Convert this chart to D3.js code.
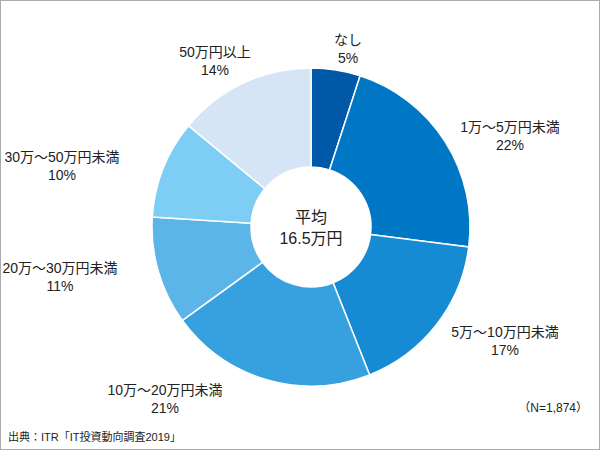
<!DOCTYPE html>
<html><head><meta charset="utf-8">
<script src="https://cdn.jsdelivr.net/npm/d3@7"></script>
<style>body{margin:0;background:#fff}svg{font-family:"Liberation Sans","Noto Sans CJK JP",sans-serif}</style>
</head><body><svg id="c" width="600" height="450"></svg>
<script>
const categories=["なし","1万～5万円未満","5万～10万円未満","10万～20万円未満","20万～30万円未満","30万～50万円未満","50万円以上"];
const values=[5,22,17,21,11,10,14];
const colors=["#0058a9","#0077c4","#168bd3","#36a1de","#5cb5e8","#7dcdf5","#d5e5f6"];
const labelPos=[[348,45],[510,132],[505,337],[165,395],[60,273],[62,162],[215,57]];
const svg=d3.select("#c");
svg.append("rect").attr("x",0.5).attr("y",0.5).attr("width",599).attr("height",449).attr("fill","#fff").attr("stroke","#aaa");
const cx=311,cy=227,R=159,r=60;
const pie=d3.pie().sort(null).value(d=>d)(values);
const arc=d3.arc().innerRadius(r).outerRadius(R);
const g=svg.append("g").attr("transform",`translate(${cx},${cy})`);
g.selectAll("path").data(pie).join("path").attr("d",arc).attr("fill",(d,i)=>colors[i]).attr("stroke","#fff").attr("stroke-width",1.5);
categories.forEach((c,i)=>{
  const x=labelPos[i][0],y=labelPos[i][1];
  svg.append("text").attr("x",x).attr("y",y).attr("text-anchor","middle").attr("font-size",14).attr("fill","#222").text(c);
  svg.append("text").attr("x",x).attr("y",y+18).attr("text-anchor","middle").attr("font-size",14).attr("fill","#222").text(values[i]+"%");
});
svg.append("text").attr("x",cx).attr("y",cy-4).attr("text-anchor","middle").attr("font-size",16).attr("fill","#222").text("平均");
svg.append("text").attr("x",cx).attr("y",cy+17).attr("text-anchor","middle").attr("font-size",16).attr("fill","#222").text("16.5万円");
svg.append("text").attr("x",588).attr("y",412).attr("text-anchor","end").attr("font-size",12).attr("fill","#222").text("（N=1,874）");
svg.append("text").attr("x",8).attr("y",441).attr("font-size",11).attr("fill","#222").text("出典：ITR「IT投資動向調査2019」");
</script></body></html>
